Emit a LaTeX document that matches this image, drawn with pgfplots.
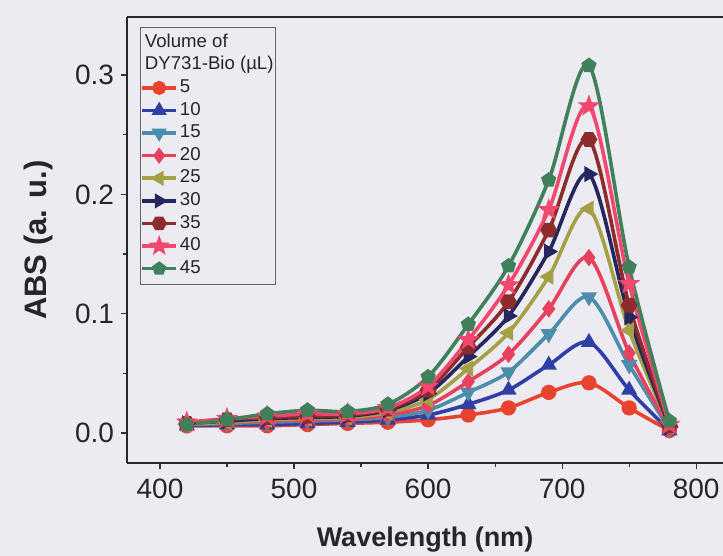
\documentclass[border=0pt]{standalone}
\usepackage{pgfplots}
\pgfplotsset{compat=1.18}
\usepackage{fontspec}
\setmainfont{Liberation Sans}
\usepackage{xcolor}
\definecolor{bg}{HTML}{ECEBF1}
\definecolor{c5}{HTML}{E8432E}
\definecolor{c10}{HTML}{2E3FA6}
\definecolor{c15}{HTML}{4B8DAA}
\definecolor{c20}{HTML}{E8405F}
\definecolor{c25}{HTML}{A3A143}
\definecolor{c30}{HTML}{252660}
\definecolor{c35}{HTML}{8E2B2D}
\definecolor{c40}{HTML}{F2476E}
\definecolor{c45}{HTML}{40805A}
\pgfdeclareplotmark{hexa*}{%
  \pgfpathmoveto{\pgfpointpolar{0}{1.1\pgfplotmarksize}}%
  \pgfpathlineto{\pgfpointpolar{60}{1.1\pgfplotmarksize}}%
  \pgfpathlineto{\pgfpointpolar{120}{1.1\pgfplotmarksize}}%
  \pgfpathlineto{\pgfpointpolar{180}{1.1\pgfplotmarksize}}%
  \pgfpathlineto{\pgfpointpolar{240}{1.1\pgfplotmarksize}}%
  \pgfpathlineto{\pgfpointpolar{300}{1.1\pgfplotmarksize}}%
  \pgfpathclose\pgfusepathqfillstroke}
\pgfdeclareplotmark{fstar}{%
  \pgfpathmoveto{\pgfpointpolar{90}{1.1\pgfplotmarksize}}%
  \pgfpathlineto{\pgfpointpolar{126}{0.45\pgfplotmarksize}}%
  \pgfpathlineto{\pgfpointpolar{162}{1.1\pgfplotmarksize}}%
  \pgfpathlineto{\pgfpointpolar{198}{0.45\pgfplotmarksize}}%
  \pgfpathlineto{\pgfpointpolar{234}{1.1\pgfplotmarksize}}%
  \pgfpathlineto{\pgfpointpolar{270}{0.45\pgfplotmarksize}}%
  \pgfpathlineto{\pgfpointpolar{306}{1.1\pgfplotmarksize}}%
  \pgfpathlineto{\pgfpointpolar{342}{0.45\pgfplotmarksize}}%
  \pgfpathlineto{\pgfpointpolar{18}{1.1\pgfplotmarksize}}%
  \pgfpathlineto{\pgfpointpolar{54}{0.45\pgfplotmarksize}}%
  \pgfpathclose\pgfusepathqfillstroke}
\pagecolor{bg}
\begin{document}%
\begin{tikzpicture}
\begin{axis}[
  at={(63.5pt,46.5pt)}, anchor=south west,
  scale only axis, width=298pt, height=223pt,
  xmin=375.4, xmax=820, ymin=-0.0252, ymax=0.3487,
  axis x line=box, axis y line=left,
  axis line style={line width=0.8pt, color=black!85, -},
  xtick={400,500,600,700,800}, minor xtick={450,550,650,750},
  ytick={0,0.1,0.2,0.3}, minor ytick={0.05,0.15,0.25},
  xtick pos=bottom, ytick pos=left,
  tick align=outside,
  major tick length=3pt, minor tick length=1.8pt,
  every tick/.style={black!80, line width=0.6pt},
  /pgf/number format/assume math mode=true,
  yticklabel style={/pgf/number format/.cd,fixed,fixed zerofill,precision=1},
  xticklabel style={yshift=-1.5pt, /pgf/number format/.cd,fixed,set thousands separator={}},
  ticklabel style={font=\fontsize{14}{16}\selectfont, text=black!85},
  xlabel={\textbf{Wavelength (nm)}},
  ylabel={\textbf{ABS (a. u.)}},
  xlabel style={font=\fontsize{13.5}{16}\selectfont, text=black!85, at={(axis description cs:0.5,-0.172)}, anchor=center},
  ylabel style={font=\fontsize{15.5}{17}\selectfont, text=black!85, at={(axis description cs:-0.149,0.5)}, anchor=center},
  every axis plot/.append style={line width=1.8pt, smooth, mark size=2.9pt},
  legend style={at={(0.0218,0.9776)}, anchor=north west, fill=none,
    draw=black!60, line width=0.4pt, row sep=0pt, inner xsep=0pt, inner ysep=2pt,
    nodes={inner xsep=1pt, inner ysep=1pt, text height=7pt, text depth=2.3pt},
    font=\fontsize{9.3}{11}\selectfont, text=black!85,
    cells={anchor=west}},
  legend image code/.code={\draw[mark repeat=2,mark phase=2, line width=1.8pt, mark size=2.6pt] plot coordinates {(0pt,0pt)(8.5pt,0pt)(17pt,0pt)};},
  legend cell align=left,
]
\addlegendimage{empty legend}
\addlegendentry{\hspace{-17.5pt}Volume of}
\addlegendimage{empty legend}
\addlegendentry{\hspace{-17.5pt}DY731-Bio (\textmu L)}
\addplot[c5, mark=*, mark options={solid}] coordinates {
(420,0.006)(450,0.006)(480,0.006)(510,0.007)(540,0.008)(570,0.009)(600,0.011)(630,0.015)(660,0.021)(690,0.034)(720,0.042)(750,0.021)(780,0.002)};
\addlegendentry{5}
\addplot[c10, mark=triangle*, mark options={solid}] coordinates {
(420,0.006)(450,0.007)(480,0.007)(510,0.008)(540,0.009)(570,0.011)(600,0.015)(630,0.024)(660,0.036)(690,0.057)(720,0.076)(750,0.036)(780,0.002)};
\addlegendentry{10}
\addplot[c15, mark=triangle*, mark options={solid, rotate=180}] coordinates {
(420,0.007)(450,0.008)(480,0.009)(510,0.010)(540,0.011)(570,0.013)(600,0.019)(630,0.034)(660,0.051)(690,0.083)(720,0.114)(750,0.057)(780,0.003)};
\addlegendentry{15}
\addplot[c20, mark=diamond*, mark options={solid}] coordinates {
(420,0.007)(450,0.009)(480,0.010)(510,0.011)(540,0.012)(570,0.015)(600,0.023)(630,0.043)(660,0.066)(690,0.104)(720,0.147)(750,0.067)(780,0.004)};
\addlegendentry{20}
\addplot[c25, mark=triangle*, mark options={solid, rotate=90}] coordinates {
(420,0.007)(450,0.009)(480,0.011)(510,0.012)(540,0.013)(570,0.017)(600,0.028)(630,0.054)(660,0.084)(690,0.131)(720,0.188)(750,0.086)(780,0.005)};
\addlegendentry{25}
\addplot[c30, mark=triangle*, mark options={solid, rotate=-90}] coordinates {
(420,0.008)(450,0.010)(480,0.012)(510,0.013)(540,0.014)(570,0.019)(600,0.033)(630,0.064)(660,0.098)(690,0.152)(720,0.217)(750,0.097)(780,0.005)};
\addlegendentry{30}
\addplot[c35, mark=hexa*, mark options={solid}] coordinates {
(420,0.008)(450,0.011)(480,0.013)(510,0.014)(540,0.015)(570,0.020)(600,0.036)(630,0.072)(660,0.110)(690,0.170)(720,0.246)(750,0.107)(780,0.006)};
\addlegendentry{35}
\addplot[c40, mark=fstar, mark options={solid}] coordinates {
(420,0.009)(450,0.012)(480,0.014)(510,0.016)(540,0.016)(570,0.021)(600,0.039)(630,0.078)(660,0.124)(690,0.187)(720,0.274)(750,0.125)(780,0.007)};
\addlegendentry{40}
\addplot[c45, mark=pentagon*, mark options={solid}] coordinates {
(420,0.007)(450,0.011)(480,0.016)(510,0.019)(540,0.018)(570,0.024)(600,0.047)(630,0.091)(660,0.140)(690,0.212)(720,0.308)(750,0.139)(780,0.010)};
\addlegendentry{45}
\end{axis}
\pgfresetboundingbox
\path[use as bounding box] (0,0) rectangle (361.5pt,278pt);
\end{tikzpicture}%
\end{document}
